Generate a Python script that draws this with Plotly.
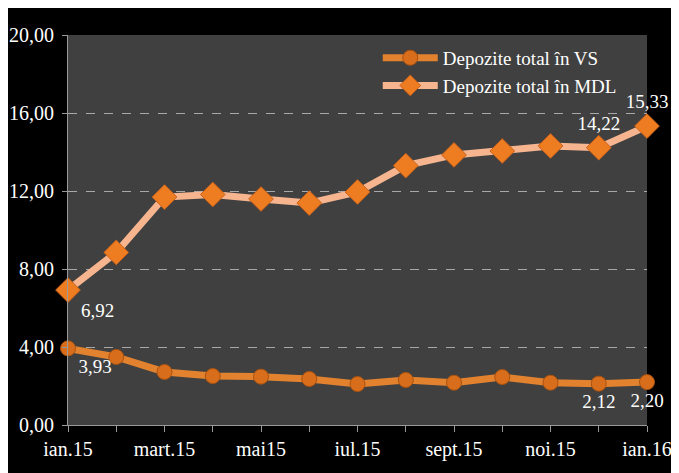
import plotly.graph_objects as go

months = ["ian.15", "feb.15", "mart.15", "apr.15", "mai15", "iun.15", "iul.15",
          "aug.15", "sept.15", "oct.15", "noi.15", "dec.15", "ian.16"]
tick_labels = ["ian.15", "", "mart.15", "", "mai15", "", "iul.15",
               "", "sept.15", "", "noi.15", "", "ian.16"]
vs_values = [3.93, 3.49, 2.72, 2.51, 2.48, 2.36, 2.10, 2.31, 2.17, 2.46, 2.17, 2.12, 2.20]
mdl_values = [6.92, 8.85, 11.69, 11.82, 11.59, 11.38, 11.95, 13.30, 13.85, 14.05, 14.31, 14.22, 15.33]
vs_labeled = [0, 11, 12]
mdl_labeled = [0, 11, 12]
y_ticks = [0, 4, 8, 12, 16, 20]

def fmt(v):
    return f"{v:.2f}".replace(".", ",")

vs_text = [fmt(v) if i in vs_labeled else "" for i, v in enumerate(vs_values)]
mdl_text = [fmt(v) if i in mdl_labeled else "" for i, v in enumerate(mdl_values)]
vs_pos = ["bottom right"] + ["bottom center"] * 12
mdl_pos = ["bottom right"] + ["top center"] * 12

FONT = "Liberation Serif, Times New Roman, serif"

fig = go.Figure()
fig.add_trace(go.Scatter(
    x=months, y=vs_values, name="Depozite total în VS",
    mode="lines+markers+text", text=vs_text, textposition=vs_pos,
    textfont=dict(family=FONT, size=19, color="white"),
    line=dict(color="#E2822F", width=7),
    marker=dict(symbol="circle", size=15, color="#D86E1C",
                line=dict(color="#A9520F", width=1)),
    cliponaxis=False,
))
fig.add_trace(go.Scatter(
    x=months, y=mdl_values, name="Depozite total în MDL",
    mode="lines+markers+text", text=mdl_text, textposition=mdl_pos,
    textfont=dict(family=FONT, size=19, color="white"),
    line=dict(color="#F6B58E", width=7),
    marker=dict(symbol="diamond", size=19, color="#EE7D22",
                line=dict(color="#C8601A", width=1)),
    cliponaxis=False,
))

fig.update_layout(
    width=679, height=473,
    margin=dict(l=60, r=40, t=27, b=56),
    paper_bgcolor="black",
    plot_bgcolor="#404040",
    separators=", ",
    font=dict(family=FONT, size=19, color="white"),
    showlegend=True,
    legend=dict(x=0.535, y=0.99, xanchor="left", yanchor="top",
                bgcolor="rgba(0,0,0,0)", font=dict(family=FONT, size=19, color="white"),
                itemwidth=55, tracegroupgap=4),
)
fig.update_xaxes(
    type="category", tickmode="array", tickvals=months, ticktext=tick_labels,
    showgrid=False, showline=True, linecolor="#9a9a9a", linewidth=1,
    ticks="outside", ticklen=6, tickcolor="#9a9a9a",
    tickfont=dict(family=FONT, size=20, color="white"),
    range=[0, 12], zeroline=False, automargin=False,
)
fig.update_yaxes(
    range=[0, 20], tickvals=y_ticks, tickformat=".2f",
    showgrid=True, gridcolor="#a8a8a8", griddash="dash", gridwidth=1,
    showline=True, linecolor="#9a9a9a", linewidth=1,
    ticks="outside", ticklen=5, tickcolor="#9a9a9a",
    tickfont=dict(family=FONT, size=20, color="white"),
    ticklabelstandoff=4,
    zeroline=False, automargin=False,
)

fig.write_html("out.html")
